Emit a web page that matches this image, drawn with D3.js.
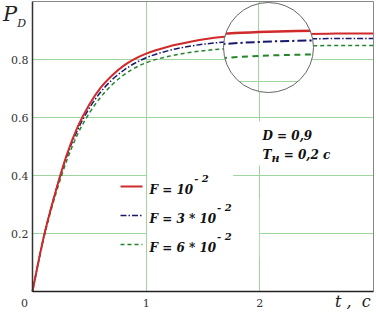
<!DOCTYPE html>
<meta charset="utf-8">
<style>
body { margin: 0; background: #fff; }
svg text { font-family: "DejaVu Serif", "Liberation Serif", serif; }
.grid line { stroke: #9ed69e; stroke-width: 1; }
.lbl { fill: #333; font-size: 11px; }
.leg { font-weight: bold; font-style: italic; font-size: 12px; fill: #111; }
</style>
<body>
<script src="https://d3js.org/d3.v7.min.js"></script>
<script>
// values
var tValues = [0, 0.1, 0.2, 0.3, 0.4, 0.5, 0.6, 0.7, 0.8, 0.9, 1.0, 1.2, 1.4, 1.6, 1.8, 2.0, 2.2, 2.4, 2.6, 2.8, 3.0];
var pF1 = [0, 0.19, 0.34, 0.47, 0.57, 0.645, 0.703, 0.745, 0.778, 0.802, 0.82, 0.845, 0.862, 0.875, 0.882, 0.885, 0.887, 0.888, 0.889, 0.89, 0.89];
var pF3 = [0, 0.19, 0.34, 0.465, 0.56, 0.632, 0.688, 0.73, 0.762, 0.787, 0.806, 0.831, 0.847, 0.857, 0.864, 0.868, 0.870, 0.871, 0.872, 0.872, 0.872];
var pF6 = [0, 0.185, 0.33, 0.45, 0.545, 0.615, 0.67, 0.713, 0.746, 0.771, 0.789, 0.811, 0.825, 0.834, 0.84, 0.844, 0.846, 0.847, 0.848, 0.848, 0.848];
var legendMain = ["F = 10", "F = 3 * 10", "F = 6 * 10"];
var legendExp = "- 2";
var xTicks = [0, 1, 2];
var yTicks = [0.2, 0.4, 0.6, 0.8];

var series = [
  {vals: pF1, color: "#d02a2a", dash: null, w: 2},
  {vals: pF3, color: "#18186e", dash: "6,2,1.5,2", w: 1.5},
  {vals: pF6, color: "#23862a", dash: "4,3", w: 1.5}
];

var margin = {top: 1.5, left: 32.5},
    width = 341, height = 290;

var svg = d3.select("body").append("svg")
    .attr("width", 376).attr("height", 313);
var g = svg.append("g").attr("transform", "translate(" + margin.left + "," + margin.top + ")");

var x = d3.scaleLinear().domain([0, 3]).range([0, width]);
var y = d3.scaleLinear().domain([0, 1]).range([height, 0]);
var px = v => Math.round(v);

// grid
var grid = g.append("g").attr("class", "grid");
grid.selectAll(".gx").data(xTicks.slice(1)).enter().append("line")
    .attr("x1", d => px(x(d))).attr("x2", d => px(x(d))).attr("y1", 0).attr("y2", height);
grid.selectAll(".gy").data(yTicks).enter().append("line")
    .attr("x1", 0).attr("x2", width).attr("y1", d => px(y(d))).attr("y2", d => px(y(d)));

// curves
var line = d3.line().x((d, i) => x(tValues[i])).y(d => y(d)).curve(d3.curveMonotoneX);
series.slice().reverse().forEach(function(s) {
  g.append("path").attr("d", line(s.vals)).attr("fill", "none")
    .attr("stroke", s.color).attr("stroke-width", s.w)
    .attr("stroke-dasharray", s.dash);
});

// white boxes behind legend and note
g.append("rect").attr("x", x(1) + 1).attr("y", 160).attr("width", 86).attr("height", 36).attr("fill", "#fff");
g.append("rect").attr("x", x(1) + 1).attr("y", 196).attr("width", 112).attr("height", 60).attr("fill", "#fff");
g.append("rect").attr("x", x(2) - 2).attr("y", 120).attr("width", 80).attr("height", 44).attr("fill", "#fff");

// legend
var legY = [185, 214, 243];
series.forEach(function(s, i) {
  g.append("line").attr("x1", 88).attr("x2", 110).attr("y1", legY[i]).attr("y2", legY[i])
    .attr("stroke", s.color).attr("stroke-width", s.w).attr("stroke-dasharray", s.dash);
  var t = g.append("text").attr("class", "leg").attr("x", 117).attr("y", legY[i] + 7);
  t.append("tspan").text(legendMain[i]);
  t.append("tspan").attr("dy", -12).attr("dx", 1).attr("font-size", 10).text(legendExp);
});

// parameters note
g.append("text").attr("class", "leg").attr("x", 230).attr("y", 138).text("D = 0,9");
var tn = g.append("text").attr("class", "leg").attr("x", 230).attr("y", 157);
tn.append("tspan").text("T");
tn.append("tspan").attr("dy", 3).attr("font-size", 11).text("н");
tn.append("tspan").attr("dy", -3).text("  = 0,2 с");

// magnifier
var cx = 268 - 32, cy = 47 - 1, r = 45;
g.append("clipPath").attr("id", "lens").append("circle").attr("cx", cx).attr("cy", cy).attr("r", r);
g.append("circle").attr("cx", cx).attr("cy", cy).attr("r", r).attr("fill", "#fff");
var lens = g.append("g").attr("clip-path", "url(#lens)");
var xi = d3.scaleLinear().domain([1.818, 2.286]).range([cx - 45, cx + 45]);
var yi = d3.scaleLinear().domain([0.8, 0.886]).range([80, 30]);
lens.append("line").attr("x1", px(xi(2))).attr("x2", px(xi(2))).attr("y1", 0).attr("y2", 100)
    .attr("stroke", "#9ed69e").attr("stroke-width", 1);
lens.append("line").attr("x1", cx - 45).attr("x2", cx + 45).attr("y1", px(yi(0.8))).attr("y2", px(yi(0.8)))
    .attr("stroke", "#9ed69e").attr("stroke-width", 1);
var lineI = d3.line().x((d, i) => xi(tValues[i])).y(d => yi(d)).curve(d3.curveMonotoneX);
series.slice().reverse().forEach(function(s) {
  lens.append("path").attr("d", lineI(s.vals)).attr("fill", "none")
    .attr("stroke", s.color).attr("stroke-width", s.w + 0.5)
    .attr("stroke-dasharray", s.dash ? s.dash.split(",").map(v => v * 1.5).join(",") : null);
});
g.append("circle").attr("cx", cx).attr("cy", cy).attr("r", r).attr("fill", "none").attr("stroke", "#666").attr("stroke-width", 1);

// frame
g.append("line").attr("x1", 0).attr("x2", width).attr("y1", 0).attr("y2", 0).attr("stroke", "#888");
g.append("line").attr("x1", width).attr("x2", width).attr("y1", 0).attr("y2", height).attr("stroke", "#888");
g.append("line").attr("x1", 0).attr("x2", 0).attr("y1", 0).attr("y2", height).attr("stroke", "#333").attr("stroke-width", 1.5);
g.append("line").attr("x1", 0).attr("x2", width).attr("y1", height).attr("y2", height).attr("stroke", "#222").attr("stroke-width", 1.5);

// tick labels
g.selectAll(".xl").data(xTicks).enter().append("text").attr("class", "lbl")
    .attr("x", d => x(d) - (d === 0 ? 8 : 0)).attr("y", height + 15)
    .attr("text-anchor", "middle").text(d => d);
g.selectAll(".yl").data(yTicks).enter().append("text").attr("class", "lbl")
    .attr("x", -4).attr("y", d => y(d) + 4)
    .attr("text-anchor", "end").text(d => d.toFixed(1));

// axis titles
var pt = svg.append("text").attr("x", 3).attr("y", 21)
    .style("font-style", "italic").attr("fill", "#222");
pt.append("tspan").attr("font-size", 21).text("P");
pt.append("tspan").attr("font-size", 11).attr("dy", 6).text("D");
svg.append("text").attr("x", 335).attr("y", 307)
    .style("font-style", "italic")
    .attr("font-size", 16).attr("fill", "#222").attr("xml:space", "preserve").text("t ,  c");
</script>
</body>
